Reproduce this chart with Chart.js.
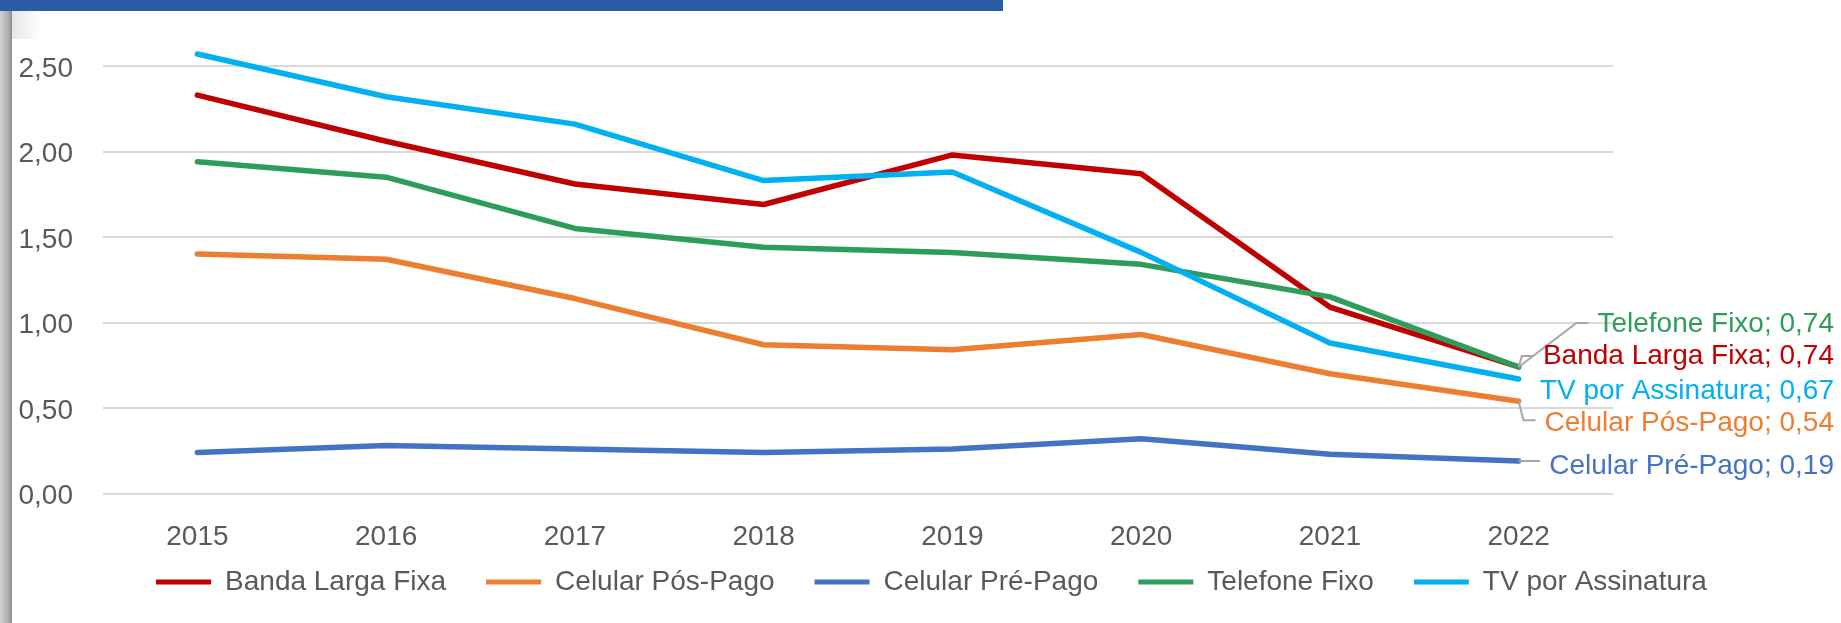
<!DOCTYPE html>
<html>
<head>
<meta charset="utf-8">
<script src="https://cdn.jsdelivr.net/npm/chart.js@4.4.1/dist/chart.umd.min.js"></script>
<style>
html, body { margin: 0; padding: 0; background: #fff; }
#wrap { position: relative; width: 1841px; height: 623px; overflow: hidden; }
#chart { position: absolute; left: 0; top: 0; }
#topBar { position: absolute; left: 0; top: 0; width: 1003px; height: 11px; background: #2A5DA8; }
#sideBar { position: absolute; left: 0; top: 11px; width: 12px; height: 612px;
  background: linear-gradient(to right, #d2d2d2, #acacac 70%, #8c8c8c); }
#cornerShade { position: absolute; left: 12px; top: 11px; width: 30px; height: 28px;
  background: linear-gradient(to right, #e6e6e6, rgba(255,255,255,0)); }
</style>
</head>
<body>
<div id="wrap">
  <canvas id="chart" width="1841" height="623"></canvas>
  <div id="topBar"></div>
  <div id="sideBar"></div>
  <div id="cornerShade"></div>
</div>
<script>
// categories
const years = ["2015", "2016", "2017", "2018", "2019", "2020", "2021", "2022"];

// series values
const bandaLargaFixa   = [2.33, 2.06, 1.81, 1.69, 1.98, 1.87, 1.09, 0.74];
const celularPosPago   = [1.40, 1.37, 1.14, 0.87, 0.84, 0.93, 0.70, 0.54];
const celularPrePago   = [0.24, 0.28, 0.26, 0.24, 0.26, 0.32, 0.23, 0.19];
const telefoneFixo     = [1.94, 1.85, 1.55, 1.44, 1.41, 1.34, 1.15, 0.74];
const tvPorAssinatura  = [2.57, 2.32, 2.16, 1.83, 1.88, 1.41, 0.88, 0.67];

// y axis ticks
const yMin = 0;
const yMax = 2.5;
const yStep = 0.5;

const FONT = '"Liberation Sans", Arial, sans-serif';
const GREY_TEXT = "#595959";

// label placement next to the last point:
// dy = text offset from the point, ldy = where the leader ends (null = no leader)
const endLabels = {
  "Telefone Fixo":     { dy: -43, ldy: -44 },
  "Banda Larga Fixa":  { dy: -11, ldy: -11 },
  "TV por Assinatura": { dy: 12,  ldy: null },
  "Celular Pós-Pago":  { dy: 22,  ldy: 19 },
  "Celular Pré-Pago":  { dy: 5,   ldy: 0 }
};

function fmt(v) {
  return v.toFixed(2).replace(".", ",");
}

function line(label, data, color) {
  return {
    label: label,
    data: data,
    borderColor: color,
    backgroundColor: color,
    borderWidth: 5.5,
    pointRadius: 0,
    tension: 0,
    borderCapStyle: "round",
    borderJoinStyle: "round",
    clip: false
  };
}

// end labels with leader lines
const endLabelPlugin = {
  id: "endLabels",
  afterDatasetsDraw(chart) {
    const ctx = chart.ctx;
    ctx.save();
    ctx.font = "28px " + FONT;
    ctx.textAlign = "left";
    ctx.textBaseline = "middle";
    chart.data.datasets.forEach((ds, i) => {
      const cfg = endLabels[ds.label];
      const meta = chart.getDatasetMeta(i);
      const pt = meta.data[meta.data.length - 1];
      const value = ds.data[ds.data.length - 1];
      const text = ds.label + "; " + fmt(value);
      const w = ctx.measureText(text).width;
      const textLeft = 1834 - w;
      if (cfg.ldy !== null) {
        const ly = pt.y + cfg.ldy;
        ctx.strokeStyle = "#A6A6A6";
        ctx.lineWidth = 2;
        ctx.beginPath();
        ctx.moveTo(pt.x, pt.y);
        ctx.lineTo(textLeft - 21, ly);
        ctx.lineTo(textLeft - 9, ly);
        ctx.stroke();
      }
      ctx.fillStyle = ds.borderColor;
      ctx.fillText(text, textLeft, pt.y + cfg.dy);
    });
    ctx.restore();
  }
};

const LEGEND_PAD = 40;

// nudge legend: item row centred at y=582, first swatch near x=156
const legendPlace = {
  id: "legendPlace",
  afterLayout(chart) {
    const lg = chart.legend;
    lg.left = 22;
    lg.right = 1841;
    lg.top = 582 - 14 - LEGEND_PAD;
  }
};

new Chart(document.getElementById("chart"), {
  type: "line",
  data: {
    labels: years,
    // drawn last-to-first, so TV ends up on top like the original
    datasets: [
      line("TV por Assinatura", tvPorAssinatura, "#00B0F0"),
      line("Telefone Fixo", telefoneFixo, "#2E9D5B"),
      line("Celular Pré-Pago", celularPrePago, "#4472C4"),
      line("Celular Pós-Pago", celularPosPago, "#ED7D31"),
      line("Banda Larga Fixa", bandaLargaFixa, "#C00000")
    ]
  },
  options: {
    responsive: false,
    animation: false,
    layout: { padding: { top: 66, right: 0, left: 0, bottom: 0 } },
    plugins: {
      tooltip: { enabled: false },
      legend: {
        position: "bottom",
        reverse: true,
        labels: {
          boxWidth: 55,
          boxHeight: 5,
          padding: LEGEND_PAD,
          color: GREY_TEXT,
          font: { family: FONT, size: 28 },
          generateLabels(chart) {
            const items = Chart.defaults.plugins.legend.labels.generateLabels(chart);
            items.forEach(it => {
              it.fillStyle = it.strokeStyle;
              it.lineWidth = 0;
            });
            return items;
          }
        }
      }
    },
    scales: {
      x: {
        offset: true,
        grid: { display: false },
        border: { display: false },
        ticks: { color: GREY_TEXT, font: { family: FONT, size: 28 }, padding: 19, maxRotation: 0 },
        afterFit(s) { s.height = 623 - 78 - 493.5; }
      },
      y: {
        min: yMin,
        max: yMax,
        border: { display: false },
        grid: { color: "#D9D9D9", lineWidth: 2, drawTicks: false },
        ticks: {
          stepSize: yStep,
          padding: 30,
          labelOffset: 3,
          color: GREY_TEXT,
          font: { family: FONT, size: 28 },
          callback: v => fmt(v)
        },
        afterFit(s) { s.width = 103; }
      },
      // empty strip on the right that holds the end labels
      yRight: {
        position: "right",
        grid: { display: false },
        border: { display: false },
        ticks: { display: false },
        afterFit(s) { s.width = 228; }
      }
    }
  },
  plugins: [endLabelPlugin, legendPlace]
});
</script>
</body>
</html>
